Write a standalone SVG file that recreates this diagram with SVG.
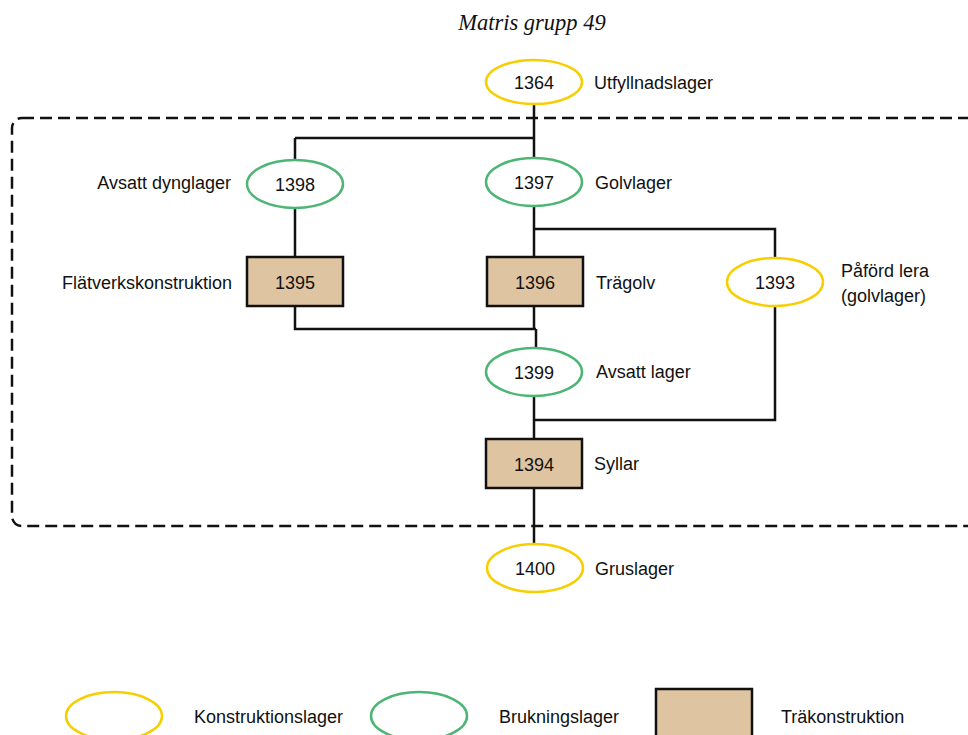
<svg xmlns="http://www.w3.org/2000/svg" width="968" height="735" viewBox="0 0 968 735">
<style>
.y{fill:#fff;stroke:#F7CE00;stroke-width:2.5}
.g{fill:#fff;stroke:#4DB675;stroke-width:2.5}
.w{fill:#DEC4A0;stroke:#111;stroke-width:2.5}
.c{fill:none;stroke:#111;stroke-width:2.5}
text{font-family:"Liberation Sans",Arial,sans-serif;font-size:18px;fill:#111}
.n{text-anchor:middle}
.e{text-anchor:end}
.t{font-family:"Liberation Serif","Times New Roman",serif;font-style:italic;font-size:22.5px}
</style>
<rect width="968" height="735" fill="#fff"/>
<text class="t n" x="532" y="30">Matris grupp 49</text>
<rect x="12" y="118" width="980" height="408" rx="10" fill="none" stroke="#111" stroke-width="2.5" stroke-dasharray="12 6"/>
<g id="connectors">
<path class="c" d="M534 102V160M295 138H534M295 138V160"/>
<path class="c" d="M295 208V257"/>
<path class="c" d="M534 206V257M534 229H775V258"/>
<path class="c" d="M295 306V329H536M534 306V329M536 329V348"/>
<path class="c" d="M534 396V439M534 420H775V306"/>
<path class="c" d="M534 488V545"/>
</g>
<g id="n1364"><ellipse class="y" cx="534" cy="82" rx="48" ry="22"/><text class="n" x="534" y="89">1364</text><text x="594" y="89">Utfyllnadslager</text></g>
<g id="n1398"><ellipse class="g" cx="295" cy="184" rx="48" ry="24"/><text class="n" x="295" y="191">1398</text><text class="e" x="231" y="189">Avsatt dynglager</text></g>
<g id="n1397"><ellipse class="g" cx="534" cy="182" rx="48" ry="24"/><text class="n" x="534" y="189">1397</text><text x="595" y="189">Golvlager</text></g>
<g id="n1395"><rect class="w" x="247" y="257" width="96" height="49"/><text class="n" x="295" y="289">1395</text><text class="e" x="232" y="289">Flätverkskonstruktion</text></g>
<g id="n1396"><rect class="w" x="487" y="257" width="96" height="49"/><text class="n" x="535" y="289">1396</text><text x="596" y="289">Trägolv</text></g>
<g id="n1393"><ellipse class="y" cx="775" cy="282" rx="48" ry="24"/><text class="n" x="775" y="289">1393</text><text x="841" y="277">Påförd lera</text><text x="841" y="302">(golvlager)</text></g>
<g id="n1399"><ellipse class="g" cx="534" cy="372" rx="48" ry="24"/><text class="n" x="534" y="379">1399</text><text x="596" y="378">Avsatt lager</text></g>
<g id="n1394"><rect class="w" x="486" y="439" width="96" height="49"/><text class="n" x="534" y="471">1394</text><text x="594" y="470">Syllar</text></g>
<g id="n1400"><ellipse class="y" cx="535" cy="568" rx="48" ry="24"/><text class="n" x="535" y="575">1400</text><text x="595" y="575">Gruslager</text></g>
<g id="legend">
<ellipse class="y" cx="114" cy="716" rx="48" ry="24"/><text x="194" y="723">Konstruktionslager</text>
<ellipse class="g" cx="419" cy="716" rx="48" ry="24"/><text x="499" y="723">Brukningslager</text>
<rect class="w" x="656" y="689" width="96" height="60"/><text x="781" y="723">Träkonstruktion</text>
</g>
</svg>
